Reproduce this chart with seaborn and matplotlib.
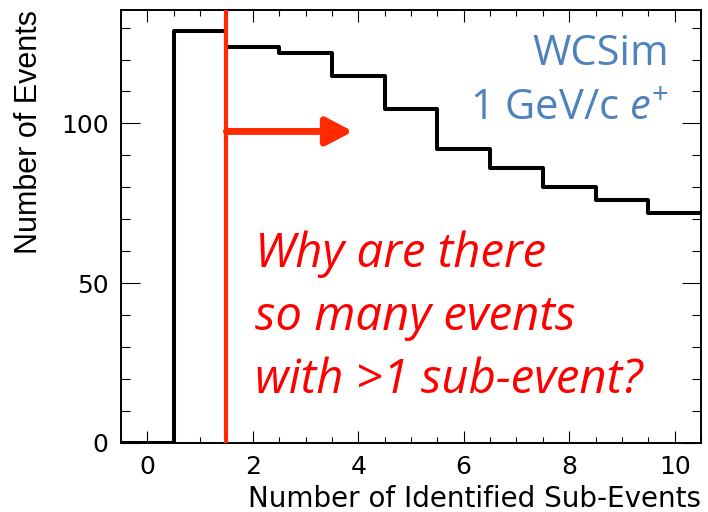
import matplotlib
matplotlib.use("Agg")
import matplotlib.pyplot as plt
import seaborn as sns
import pandas as pd

# ---- data ----
n_subevents = [0, 1, 2, 3, 4, 5, 6, 7, 8, 9, 10]
n_events = [0, 129, 124, 122, 115, 104.5, 92, 86, 80, 76, 72]
x_ticks = [0, 2, 4, 6, 8, 10]
y_ticks = [0, 50, 100]
cut_value = 1.5
arrow_end = 3.9
arrow_y = 97.5
question_lines = ["Why are there", "so many events", "with >1 sub-event?"]
question_y = [55.2, 35.4, 15.6]
label_lines = ["WCSim", "1 GeV/c $e^{+}$"]

sns.set_style("ticks")
plt.rcParams['font.family'] = ['DejaVu Sans']
plt.rcParams['text.color'] = 'black'
plt.rcParams['axes.labelcolor'] = 'black'
plt.rcParams['xtick.color'] = 'black'
plt.rcParams['ytick.color'] = 'black'
plt.rcParams['mathtext.fontset'] = 'custom'
plt.rcParams['mathtext.rm'] = 'Open Sans'
plt.rcParams['mathtext.it'] = 'Open Sans:italic'

df = pd.DataFrame({"n": n_subevents, "w": n_events})

fig = plt.figure(figsize=(7.08, 5.12), dpi=100)
ax = fig.add_axes([121/708, 1 - 443/512, 580/708, 433/512])

sns.histplot(data=df, x="n", weights="w", discrete=True, element="step",
             fill=False, color="black", linewidth=2.9, ax=ax)

ax.set_xlim(-0.5, 10.5)
ax.set_ylim(0, 135.5)
ax.set_xticks(x_ticks)
ax.set_yticks(y_ticks)
ax.set_xticks([v / 2 for v in range(-1, 22)], minor=True)
ax.set_yticks(list(range(0, 136, 10)), minor=True)

for s in ax.spines.values():
    s.set_visible(True)
    s.set_linewidth(1.4)
    s.set_color("black")

ax.tick_params(axis='both', which='both', direction='in', top=True, right=True,
               width=0.8, color='black', labelcolor='black', labelsize=18)
ax.tick_params(axis='y', which='major', length=13.5, pad=9)
ax.tick_params(axis='y', which='minor', length=6.5)
ax.tick_params(axis='x', which='major', length=8.3, pad=9)
ax.tick_params(axis='x', which='minor', length=4.3)

ax.set_xlabel("Number of Identified Sub-Events", loc='right', fontsize=20,
              labelpad=4, color='black')
ax.set_ylabel("Number of Events", loc='top', fontsize=22, labelpad=12,
              color='black', family='Liberation Sans')

# cut line and arrow
ax.axvline(cut_value, color="#ff2a00", linewidth=3, zorder=5)
ax.annotate("", xy=(arrow_end, arrow_y), xytext=(cut_value, arrow_y),
            arrowprops=dict(arrowstyle="-|>,head_length=0.8,head_width=0.42",
                            mutation_scale=20, lw=5, color="#ff2a00",
                            shrinkA=0, shrinkB=0), zorder=5)

for txt, yv in zip(question_lines, question_y):
    ax.text(2.04, yv, txt, color="#ff0000", fontsize=34, style='italic',
            family='Open Sans', va='baseline', ha='left')

ax.text(0.945, 0.873, label_lines[0], transform=ax.transAxes, color="#4f81bd",
        fontsize=30, family='Open Sans', ha='right', va='baseline')
ax.text(0.945, 0.746, label_lines[1], transform=ax.transAxes, color="#4f81bd",
        fontsize=30, family='Open Sans', ha='right', va='baseline')

fig.savefig("out.png", dpi=100)
